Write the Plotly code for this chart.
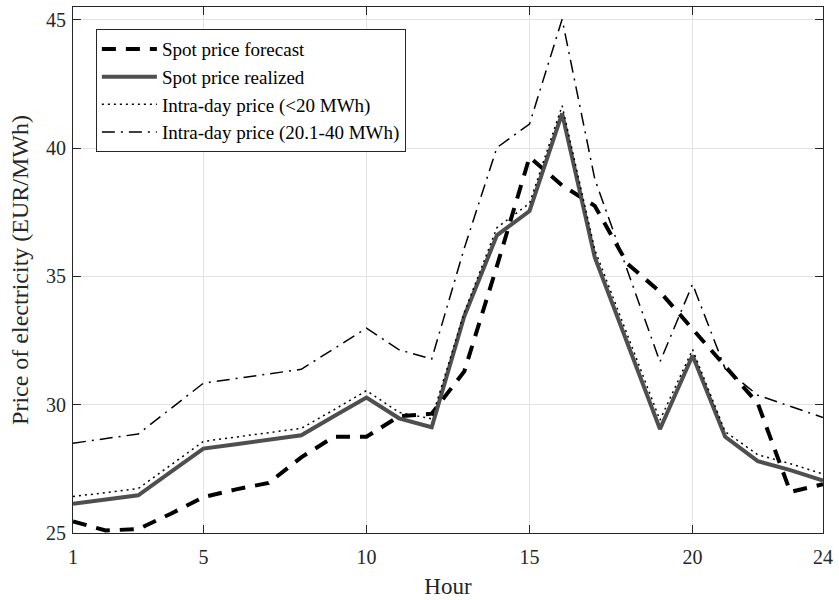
import plotly.graph_objects as go

# Hourly electricity prices (EUR/MWh)
hours = list(range(1, 25))

spot_forecast = [25.45, 25.10, 25.15, 25.75, 26.40, 26.70, 26.95, 27.95,
                 28.75, 28.75, 29.55, 29.65, 31.30, 35.40, 39.65, 38.55,
                 37.75, 35.50, 34.40, 32.95, 31.45, 30.05, 26.60, 26.90]

spot_realized = [26.14, 26.30, 26.47, 27.38, 28.29, 28.46, 28.63, 28.81,
                 29.55, 30.28, 29.47, 29.12, 33.45, 36.60, 37.55, 41.35,
                 35.75, 32.40, 29.05, 31.92, 28.75, 27.80, 27.45, 27.04]

intraday_small = [26.42, 26.58, 26.73, 27.65, 28.57, 28.74, 28.91, 29.08,
                  29.80, 30.55, 29.70, 29.45, 33.60, 36.90, 37.85, 41.65,
                  36.05, 32.70, 29.40, 32.15, 28.95, 28.05, 27.70, 27.30]

intraday_large = [28.50, 28.68, 28.86, 29.85, 30.84, 31.02, 31.20, 31.38,
                  32.18, 32.98, 32.14, 31.78, 36.10, 40.02, 40.94, 45.02,
                  38.80, 35.25, 31.67, 34.70, 31.40, 30.37, 29.92, 29.50]

series_names = ["Spot price forecast", "Spot price realized",
                "Intra-day price (<20 MWh)", "Intra-day price (20.1-40 MWh)"]

x_ticks = [1, 5, 10, 15, 20, 24]
y_ticks = [25, 30, 35, 40, 45]

FONT = "Liberation Serif, Times New Roman, serif"

fig = go.Figure()
fig.add_trace(go.Scatter(x=hours, y=spot_forecast, mode="lines", name=series_names[0],
                         line=dict(color="#000000", width=4, dash="14px,10px")))
fig.add_trace(go.Scatter(x=hours, y=spot_realized, mode="lines", name=series_names[1],
                         line=dict(color="#4f4f4f", width=4)))
fig.add_trace(go.Scatter(x=hours, y=intraday_small, mode="lines", name=series_names[2],
                         line=dict(color="#000000", width=1.5, dash="2px,4px")))
fig.add_trace(go.Scatter(x=hours, y=intraday_large, mode="lines", name=series_names[3],
                         line=dict(color="#000000", width=1.5, dash="13px,6px,2px,6px")))

axis_common = dict(
    showline=True, linecolor="#262626", linewidth=1, mirror="ticks",
    ticks="inside", ticklen=8, tickcolor="#262626", tickwidth=1,
    showgrid=True, gridcolor="#e3e3e3", gridwidth=1, zeroline=False,
    tickfont=dict(family=FONT, size=20, color="#262626"),
)

fig.update_layout(
    width=839, height=600,
    margin=dict(l=73, r=11, t=6, b=65),
    paper_bgcolor="white", plot_bgcolor="white",
    font=dict(family=FONT, color="#262626"),
    xaxis=dict(range=[1, 24], tickvals=x_ticks, ticktext=[str(v) for v in x_ticks],
               ticklabelstandoff=6,
               title=dict(text="Hour", font=dict(family=FONT, size=23), standoff=10),
               **axis_common),
    yaxis=dict(range=[25, 45.5], tickvals=y_ticks, ticktext=[str(v) for v in y_ticks],
               ticklabelstandoff=2,
               title=dict(text="Price of electricity (EUR/MWh)",
                          font=dict(family=FONT, size=24), standoff=10),
               **axis_common),
    legend=dict(x=0.0305, y=0.958, xanchor="left", yanchor="top",
                bgcolor="white", bordercolor="#262626", borderwidth=1,
                font=dict(family=FONT, size=19, color="#000000"),
                tracegroupgap=0, itemwidth=55),
    showlegend=True,
)

fig.write_html("out.html")
